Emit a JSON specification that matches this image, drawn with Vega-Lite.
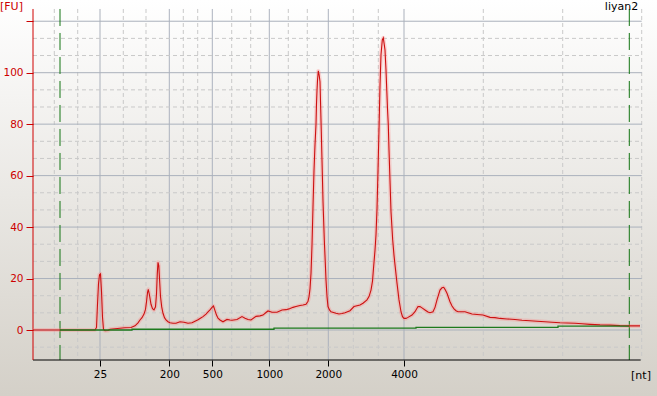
{
  "$schema": "https://vega.github.io/schema/vega-lite/v6.json",
  "width": 657,
  "height": 396,
  "padding": 0,
  "autosize": {"type": "none"},
  "background": "#ffffff",
  "config": {"view": {"stroke": null}, "font": "DejaVu Sans"},
  "datasets": {
    "trace": [
      {"t": 0, "fu": 0}, {"t": 27, "fu": 0}, {"t": 62, "fu": 0}, {"t": 63.5, "fu": 1}, {"t": 64.5, "fu": 10},
      {"t": 65.5, "fu": 18}, {"t": 66.5, "fu": 21.5}, {"t": 67.5, "fu": 21.8}, {"t": 68.5, "fu": 15}, {"t": 69.5, "fu": 5},
      {"t": 70.5, "fu": 0.2}, {"t": 72, "fu": -0.3}, {"t": 75, "fu": -0.2}, {"t": 77, "fu": 0.3}, {"t": 82, "fu": 0.5},
      {"t": 87, "fu": 0.7}, {"t": 92, "fu": 0.9}, {"t": 98, "fu": 1.0}, {"t": 102, "fu": 1.6}, {"t": 105, "fu": 2.8},
      {"t": 107, "fu": 3.9}, {"t": 109, "fu": 4.8}, {"t": 111, "fu": 6.2}, {"t": 112.5, "fu": 8}, {"t": 113.5, "fu": 11},
      {"t": 114.5, "fu": 14.5}, {"t": 115.3, "fu": 15.8}, {"t": 116.5, "fu": 13.5}, {"t": 118, "fu": 10}, {"t": 119.5, "fu": 8.3},
      {"t": 121, "fu": 7.8}, {"t": 122.5, "fu": 9}, {"t": 123.5, "fu": 14}, {"t": 124.3, "fu": 22}, {"t": 125, "fu": 26.3},
      {"t": 125.8, "fu": 25}, {"t": 126.5, "fu": 20}, {"t": 127.5, "fu": 13}, {"t": 128.7, "fu": 9}, {"t": 130, "fu": 6.5},
      {"t": 131.5, "fu": 4.8}, {"t": 133, "fu": 3.9}, {"t": 135, "fu": 3.2}, {"t": 137, "fu": 2.8}, {"t": 140, "fu": 2.6},
      {"t": 143, "fu": 2.6}, {"t": 147, "fu": 3.2}, {"t": 151, "fu": 3.0}, {"t": 155, "fu": 2.6}, {"t": 159, "fu": 2.8},
      {"t": 162, "fu": 3.4}, {"t": 165, "fu": 4.0}, {"t": 167, "fu": 4.5}, {"t": 170, "fu": 5.2}, {"t": 173, "fu": 6.2},
      {"t": 175, "fu": 7.0}, {"t": 177, "fu": 7.8}, {"t": 179, "fu": 8.8}, {"t": 180.5, "fu": 9.3}, {"t": 182, "fu": 7.5},
      {"t": 183.5, "fu": 5.8}, {"t": 185, "fu": 4.6}, {"t": 187, "fu": 3.9}, {"t": 190, "fu": 3.2}, {"t": 194, "fu": 4.1},
      {"t": 197, "fu": 3.9}, {"t": 199, "fu": 3.8}, {"t": 204, "fu": 4.1}, {"t": 209, "fu": 5.2}, {"t": 212, "fu": 4.6},
      {"t": 215, "fu": 4.1}, {"t": 218, "fu": 3.9}, {"t": 223, "fu": 5.3}, {"t": 227, "fu": 5.5}, {"t": 230, "fu": 5.8},
      {"t": 233, "fu": 6.8}, {"t": 235, "fu": 7.4}, {"t": 239, "fu": 6.9}, {"t": 244, "fu": 6.9}, {"t": 249, "fu": 7.8},
      {"t": 253, "fu": 7.9}, {"t": 256, "fu": 8.2}, {"t": 260, "fu": 8.8}, {"t": 263, "fu": 9.1}, {"t": 267, "fu": 9.5},
      {"t": 270, "fu": 9.7}, {"t": 273, "fu": 10.0}, {"t": 275, "fu": 11.2}, {"t": 276, "fu": 12.9}, {"t": 277, "fu": 16},
      {"t": 278, "fu": 22}, {"t": 279, "fu": 33}, {"t": 280, "fu": 48}, {"t": 281, "fu": 62}, {"t": 282, "fu": 72},
      {"t": 283, "fu": 80}, {"t": 283.5, "fu": 88}, {"t": 284, "fu": 93}, {"t": 284.5, "fu": 97}, {"t": 285.3, "fu": 100.7},
      {"t": 286.2, "fu": 99}, {"t": 287, "fu": 96.5}, {"t": 287.7, "fu": 86}, {"t": 288.3, "fu": 77}, {"t": 289, "fu": 66},
      {"t": 290, "fu": 50}, {"t": 291.3, "fu": 35}, {"t": 292.3, "fu": 26}, {"t": 293, "fu": 19.4}, {"t": 294, "fu": 13},
      {"t": 295, "fu": 9.1}, {"t": 296.5, "fu": 7.8}, {"t": 298, "fu": 7.1}, {"t": 303, "fu": 6.5}, {"t": 306, "fu": 6.2},
      {"t": 309, "fu": 6.4}, {"t": 312, "fu": 6.7}, {"t": 317, "fu": 7.5}, {"t": 321, "fu": 9.1}, {"t": 324, "fu": 9.4},
      {"t": 327, "fu": 9.7}, {"t": 330, "fu": 10.4}, {"t": 334, "fu": 11.7}, {"t": 336, "fu": 13}, {"t": 338, "fu": 15.5},
      {"t": 339.5, "fu": 19}, {"t": 340.5, "fu": 24}, {"t": 342, "fu": 31}, {"t": 343, "fu": 37}, {"t": 344, "fu": 47},
      {"t": 345, "fu": 62}, {"t": 346, "fu": 78}, {"t": 347, "fu": 95}, {"t": 348, "fu": 107}, {"t": 349.3, "fu": 112.7},
      {"t": 350.3, "fu": 113.5}, {"t": 351.3, "fu": 110.8}, {"t": 352, "fu": 108.8}, {"t": 353, "fu": 101}, {"t": 353.7, "fu": 94},
      {"t": 354.5, "fu": 86}, {"t": 355.3, "fu": 79.7}, {"t": 356, "fu": 70}, {"t": 357, "fu": 58}, {"t": 358, "fu": 46},
      {"t": 359.7, "fu": 35}, {"t": 361, "fu": 29}, {"t": 362, "fu": 25.3}, {"t": 364, "fu": 18.2}, {"t": 366, "fu": 11.7},
      {"t": 368, "fu": 7.1}, {"t": 369.5, "fu": 5.2}, {"t": 371, "fu": 4.5}, {"t": 373, "fu": 4.5}, {"t": 375, "fu": 4.9},
      {"t": 379, "fu": 5.8}, {"t": 382, "fu": 7.1}, {"t": 385, "fu": 9.1}, {"t": 387, "fu": 9.1}, {"t": 389, "fu": 8.6},
      {"t": 392, "fu": 7.8}, {"t": 395, "fu": 7.0}, {"t": 397, "fu": 6.7}, {"t": 400, "fu": 7.1}, {"t": 402, "fu": 8.8},
      {"t": 404, "fu": 11.7}, {"t": 407, "fu": 15.5}, {"t": 409, "fu": 16.4}, {"t": 410.7, "fu": 16.6}, {"t": 412, "fu": 15.8},
      {"t": 414, "fu": 14.3}, {"t": 417, "fu": 11}, {"t": 419, "fu": 9.3}, {"t": 421, "fu": 8.2}, {"t": 423, "fu": 7.5},
      {"t": 425, "fu": 7.1}, {"t": 429, "fu": 7.1}, {"t": 432, "fu": 7.1}, {"t": 435, "fu": 6.7}, {"t": 439, "fu": 6.2},
      {"t": 444, "fu": 6.0}, {"t": 450, "fu": 5.8}, {"t": 457, "fu": 4.9}, {"t": 462, "fu": 4.8}, {"t": 467, "fu": 4.5},
      {"t": 474, "fu": 4.3}, {"t": 482, "fu": 4.1}, {"t": 489, "fu": 3.8}, {"t": 497, "fu": 3.6}, {"t": 504, "fu": 3.4},
      {"t": 512, "fu": 3.2}, {"t": 519, "fu": 3.0}, {"t": 527, "fu": 2.8}, {"t": 534, "fu": 2.7}, {"t": 542, "fu": 2.6},
      {"t": 549, "fu": 2.4}, {"t": 557, "fu": 2.2}, {"t": 567, "fu": 2.0}, {"t": 577, "fu": 1.9}, {"t": 587, "fu": 1.7},
      {"t": 597, "fu": 1.6}, {"t": 607, "fu": 1.6}
    ],
    "baseline": [
      {"t": 27, "fu": 0}, {"t": 99, "fu": 0.3}, {"t": 241, "fu": 0.75}, {"t": 383, "fu": 1.05}, {"t": 525, "fu": 1.5}, {"t": 596, "fu": 1.5}
    ],
    "vgrid": [
      {"t": 67, "kind": "major"}, {"t": 136.3, "kind": "major"}, {"t": 179.3, "kind": "major"}, {"t": 236.3, "kind": "major"},
      {"t": 295.3, "kind": "major"}, {"t": 371, "kind": "major"},
      {"t": 21.3, "kind": "minor"}, {"t": 44.7, "kind": "minor"}, {"t": 90.3, "kind": "minor"}, {"t": 113, "kind": "minor"},
      {"t": 150.3, "kind": "minor"}, {"t": 164.7, "kind": "minor"}, {"t": 198.7, "kind": "minor"}, {"t": 217.7, "kind": "minor"},
      {"t": 255.3, "kind": "minor"}, {"t": 274.3, "kind": "minor"}, {"t": 320.3, "kind": "minor"}, {"t": 345.3, "kind": "minor"},
      {"t": 450.3, "kind": "minor"}, {"t": 529.7, "kind": "minor"}, {"t": 608.7, "kind": "minor"}
    ],
    "hgrid": [
      {"fu": 0, "kind": "major"}, {"fu": 20, "kind": "major"}, {"fu": 40, "kind": "major"}, {"fu": 60, "kind": "major"},
      {"fu": 80, "kind": "major"}, {"fu": 100, "kind": "major"}, {"fu": 120, "kind": "major"},
      {"fu": -6.667, "kind": "minor"}, {"fu": 6.667, "kind": "minor"}, {"fu": 13.333, "kind": "minor"}, {"fu": 26.667, "kind": "minor"},
      {"fu": 33.333, "kind": "minor"}, {"fu": 46.667, "kind": "minor"}, {"fu": 53.333, "kind": "minor"}, {"fu": 66.667, "kind": "minor"},
      {"fu": 73.333, "kind": "minor"}, {"fu": 86.667, "kind": "minor"}, {"fu": 93.333, "kind": "minor"}, {"fu": 106.667, "kind": "minor"},
      {"fu": 113.333, "kind": "minor"}
    ],
    "markers": [{"t": 27}, {"t": 596.3}]
  },
  "layer": [
    {
      "data": {"values": [{"a": 1}]},
      "mark": {"type": "rect", "color": {"gradient": "linear", "x1": 0, "y1": 0, "x2": 0, "y2": 1,
        "stops": [{"offset": 0, "color": "#ffffff"}, {"offset": 1, "color": "#d4d0c8"}]}},
      "encoding": {
        "x": {"datum": -33, "type": "quantitative", "scale": {"domain": [-33, 624], "nice": false, "zero": false},
          "axis": {"values": [67, 136.3, 179.3, 236.3, 295.3, 371], "orient": "bottom", "offset": -36, "domain": false, "grid": false,
            "title": null, "tickColor": "#000000", "tickSize": 6, "tickWidth": 1, "labelPadding": 3, "labelFontSize": 10.5,
            "labelColor": "#000000", "labelFont": "DejaVu Sans", "zindex": 1,
            "labelExpr": "{'67':'25','136.3':'200','179.3':'500','236.3':'1000','295.3':'2000','371':'4000'}[datum.value]"}},
        "x2": {"datum": 624},
        "y": {"datum": -25.65, "type": "quantitative", "scale": {"domain": [-25.65, 128.25], "nice": false, "zero": false},
          "axis": {"values": [0, 20, 40, 60, 80, 100, 120], "orient": "left", "offset": -33, "domain": false, "grid": false,
            "title": null, "tickColor": "#cc0000", "tickSize": 7, "tickWidth": 1, "labelPadding": 3, "labelFontSize": 10.5,
            "labelColor": "#cc0000", "labelFont": "DejaVu Sans", "zindex": 1,
            "labelExpr": "datum.value == 120 ? '' : datum.label"}},
        "y2": {"datum": 128.25}
      }
    },
    {
      "data": {"name": "vgrid"},
      "mark": {"type": "rule", "strokeWidth": 1},
      "encoding": {
        "x": {"field": "t", "type": "quantitative"},
        "y": {"datum": 124.76, "type": "quantitative"},
        "y2": {"datum": -11.66},
        "color": {"field": "kind", "type": "nominal", "scale": {"domain": ["major", "minor"], "range": ["#aab1bc", "#c9c9c9"]}, "legend": null},
        "strokeDash": {"field": "kind", "type": "nominal", "scale": {"domain": ["major", "minor"], "range": [[1, 0], [4, 3]]}, "legend": null}
      }
    },
    {
      "data": {"name": "hgrid"},
      "mark": {"type": "rule", "strokeWidth": 1},
      "encoding": {
        "y": {"field": "fu", "type": "quantitative"},
        "x": {"datum": 0, "type": "quantitative"},
        "x2": {"datum": 608.7},
        "color": {"field": "kind", "type": "nominal", "scale": {"domain": ["major", "minor"], "range": ["#aab1bc", "#c9c9c9"]}, "legend": null},
        "strokeDash": {"field": "kind", "type": "nominal", "scale": {"domain": ["major", "minor"], "range": [[1, 0], [4, 3]]}, "legend": null}
      }
    },
    {
      "data": {"name": "markers"},
      "mark": {"type": "rule", "color": "#127512", "strokeWidth": 1, "strokeDash": [17, 7]},
      "encoding": {
        "x": {"field": "t", "type": "quantitative"},
        "y": {"datum": 124.76, "type": "quantitative"},
        "y2": {"datum": -11.66}
      }
    },
    {
      "data": {"values": [{"a": 1}]},
      "mark": {"type": "rule", "color": "#000000", "strokeWidth": 1},
      "encoding": {
        "x": {"datum": 0, "type": "quantitative"},
        "x2": {"datum": 607.7},
        "y": {"datum": -11.66, "type": "quantitative"}
      }
    },
    {
      "data": {"values": [{"a": 1}]},
      "mark": {"type": "rule", "color": "#d00000", "strokeWidth": 1},
      "encoding": {
        "x": {"datum": 0, "type": "quantitative"},
        "y": {"datum": 124.76, "type": "quantitative"},
        "y2": {"datum": -11.66}
      }
    },
    {
      "data": {"name": "trace"},
      "mark": {"type": "line", "color": "#ff7f7f", "strokeWidth": 4, "opacity": 0.3, "strokeJoin": "round"},
      "encoding": {
        "x": {"field": "t", "type": "quantitative"},
        "y": {"field": "fu", "type": "quantitative"}
      }
    },
    {
      "data": {"name": "trace"},
      "mark": {"type": "line", "color": "#cc1111", "strokeWidth": 1.1},
      "encoding": {
        "x": {"field": "t", "type": "quantitative"},
        "y": {"field": "fu", "type": "quantitative"}
      }
    },
    {
      "data": {"name": "baseline"},
      "mark": {"type": "line", "color": "#1d7a1d", "strokeWidth": 1.3, "interpolate": "step-after"},
      "encoding": {
        "x": {"field": "t", "type": "quantitative"},
        "y": {"field": "fu", "type": "quantitative"}
      }
    },
    {
      "data": {"values": [{"label": "[FU]", "t": -33, "fu": 125.4}]},
      "mark": {"type": "text", "align": "left", "baseline": "middle", "fontSize": 11, "color": "#cc0000", "font": "DejaVu Sans"},
      "encoding": {
        "x": {"field": "t", "type": "quantitative"},
        "y": {"field": "fu", "type": "quantitative"},
        "text": {"field": "label"}
      }
    },
    {
      "data": {"values": [{"label": "liyan2", "t": 588.5, "fu": 125.6}, {"label": "[nt]", "t": 608, "fu": -17.7}]},
      "mark": {"type": "text", "align": "center", "baseline": "middle", "fontSize": 11, "color": "#000000", "font": "DejaVu Sans"},
      "encoding": {
        "x": {"field": "t", "type": "quantitative"},
        "y": {"field": "fu", "type": "quantitative"},
        "text": {"field": "label"}
      }
    }
  ]
}
